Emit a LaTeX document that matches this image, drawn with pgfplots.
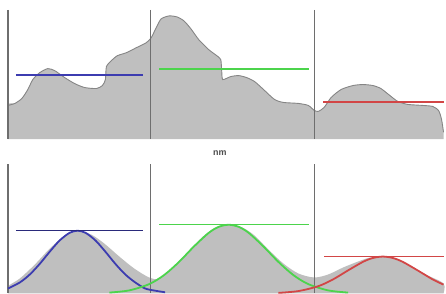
\documentclass[border=0pt]{standalone}
\usepackage{pgfplots}
\pgfplotsset{compat=1.18}
\usepackage{fontspec}
\setmainfont{Liberation Sans}
\definecolor{grfill}{HTML}{BFBFBF}
\definecolor{grline}{HTML}{858585}
\definecolor{vline}{HTML}{6E6E6E}
\definecolor{cblue}{HTML}{3C3CB0}
\definecolor{cgreen}{HTML}{4CD44C}
\definecolor{cred}{HTML}{D24646}
\begin{document}
\begin{tikzpicture}
\begin{axis}[scale only axis, width=446pt, height=295pt,
  xmin=0, xmax=446, ymin=0, ymax=295, y dir=reverse, hide axis, clip=false]
\addplot[draw=none] coordinates {(0,0) (446,295)};
% top panel fill
\addplot[fill=grfill, draw=none, smooth, tension=0.4] coordinates {
(8,140) (8,106) (15,104) (22,99) (28,90) (33,80) (40,73) (48,69) (55,71) (65,78) (75,84) (85,88) (97,89) (103,86) (106,80) (107,67) (112,61) (118,56) (127,53) (137,48) (147,43) (152,38) (157,28) (162,19) (170,16) (178,17) (185,21) (192,29) (200,40) (210,50) (218,56) (222,60) (223,72) (224,80) (232,77) (240,76) (248,78) (256,82) (265,90) (276,100) (285,103) (300,104) (310,106) (316,111) (320,112) (326,108) (333,98) (343,90) (355,86) (365,85) (375,86) (383,89) (392,96) (400,102) (410,105) (425,106) (435,107) (441,111) (444,120) (446,133) (446,140)};
\addplot[draw=grline, line width=0.9pt, smooth, tension=0.4] coordinates {
(8,106) (15,104) (22,99) (28,90) (33,80) (40,73) (48,69) (55,71) (65,78) (75,84) (85,88) (97,89) (103,86) (106,80) (107,67) (112,61) (118,56) (127,53) (137,48) (147,43) (152,38) (157,28) (162,19) (170,16) (178,17) (185,21) (192,29) (200,40) (210,50) (218,56) (222,60) (223,72) (224,80) (232,77) (240,76) (248,78) (256,82) (265,90) (276,100) (285,103) (300,104) (310,106) (316,111) (320,112) (326,108) (333,98) (343,90) (355,86) (365,85) (375,86) (383,89) (392,96) (400,102) (410,105) (425,106) (435,107) (441,111) (444,120) (446,133)};
% top verticals
\addplot[draw=vline, line width=1.1pt] coordinates {(8,10) (8,140)};
\addplot[draw=vline, line width=1.1pt] coordinates {(151,10) (151,140)};
\addplot[draw=vline, line width=1.1pt] coordinates {(316,10) (316,140)};
% top horizontal means
\addplot[draw=cblue, line width=1.5pt] coordinates {(16,75.5) (144,75.5)};
\addplot[draw=cgreen, line width=1.5pt] coordinates {(160,69.5) (311,69.5)};
\addplot[draw=cred, line width=1.5pt] coordinates {(325,102.5) (446,102.5)};
% bottom gray area
\addplot[fill=grfill, draw=none, smooth, tension=0.5] coordinates {
(8,295) (8,288) (20,280) (35,266) (50,250) (65,237) (78,232) (92,236) (105,245) (120,258) (135,270) (150,279) (160,280) (175,268) (190,252) (205,237) (218,228) (230,226) (242,228) (255,236) (270,251) (285,265) (300,275) (316,279) (330,276) (345,269) (360,263) (372,259) (385,258) (398,260) (412,267) (428,276) (446,285) (446,295)};
% bottom verticals
\addplot[draw=vline, line width=1.1pt] coordinates {(8,165) (8,295)};
\addplot[draw=vline, line width=1.1pt] coordinates {(151,165) (151,295)};
\addplot[draw=vline, line width=1.1pt] coordinates {(316,165) (316,295)};
% gaussians
\addplot[draw=cblue, line width=1.8pt, smooth] coordinates {
(8,290.1) (20,284.0) (30,276.0) (40,265.3) (50,253.1) (60,241.8) (70,234.1) (78,232) (86,234.1) (96,241.8) (106,253.1) (116,265.3) (126,276.0) (136,284.0) (146,290.1) (156,292.3) (166,293.9)};
\addplot[draw=cgreen, line width=1.8pt, smooth] coordinates {
(110,294.2) (130,292) (150,285.7) (165,276.6) (180,263.4) (195,247.9) (210,234.1) (220,228.1) (230,226) (240,228.1) (250,234.1) (265,247.9) (280,263.4) (295,276.6) (310,285.7) (330,292) (350,294.2)};
\addplot[draw=cred, line width=1.8pt, smooth] coordinates {
(280,294.5) (300,292.7) (320,287.8) (335,280.9) (350,271.9) (365,263.3) (375,259.4) (385,258) (395,259.4) (405,263.3) (420,271.9) (435,280.9) (446,286.2)};
% bottom horizontal means
\addplot[draw=cblue!70!black, line width=1.5pt] coordinates {(16,232) (144,232)};
\addplot[draw=cgreen, line width=1.5pt] coordinates {(160,226) (311,226)};
\addplot[draw=cred, line width=1.5pt] coordinates {(326,258) (446,258)};
\node[font=\fontsize{9}{10}\selectfont\bfseries, text=black!70] at (axis cs:221,154) {nm};
\end{axis}
\end{tikzpicture}
\end{document}
